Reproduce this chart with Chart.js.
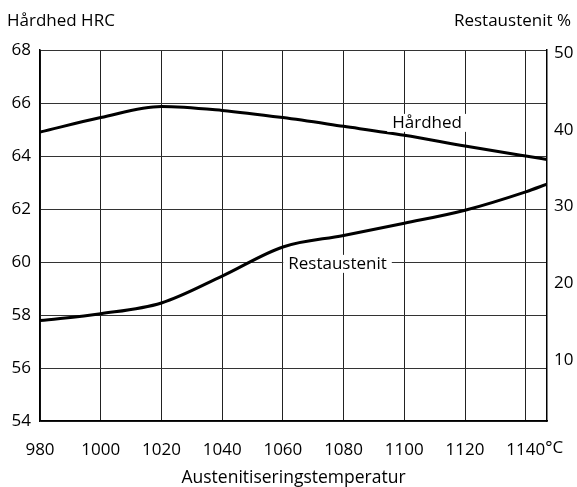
<!DOCTYPE html>
<html>
<head>
<meta charset="utf-8">
<script src="https://cdn.jsdelivr.net/npm/chart.js@4.4.1/dist/chart.umd.min.js"></script>
<style>
  html, body { margin: 0; padding: 0; background: #fff; }
  #wrap { width: 577px; height: 487px; }
</style>
</head>
<body>
<div id="wrap"><canvas id="graf" width="577" height="487"></canvas></div>
<script>
// data
const temperaturer = [980, 1000, 1020, 1040, 1060, 1080, 1100, 1120, 1140, 1147];
const haardhed = [64.9, 65.45, 65.87, 65.72, 65.45, 65.12, 64.78, 64.38, 64.0, 63.87];
const restaustenit = [15.1, 16.0, 17.4, 20.9, 24.7, 26.2, 27.8, 29.5, 31.9, 32.9];
const xTicks = [980, 1000, 1020, 1040, 1060, 1080, 1100, 1120, 1140];
const hrcTicks = [54, 56, 58, 60, 62, 64, 66, 68];
const restTicks = [10, 20, 30, 40, 50];

const FONT = "'Open Sans', 'DejaVu Sans', sans-serif";

function punkter(ys) {
    return temperaturer.map((t, i) => ({ x: t, y: ys[i] }));
}

// tekster oven over og inde i diagrammet
const tekstPlugin = {
    id: 'tekster',
    afterDraw(chart) {
        const ctx = chart.ctx;
        const x = chart.scales.x;
        const yL = chart.scales.y;
        ctx.save();
        ctx.fillStyle = '#000';
        ctx.font = '17px ' + FONT;
        ctx.textBaseline = 'middle';
        ctx.textAlign = 'left';
        ctx.fillText('Hårdhed HRC', 7, 21);
        ctx.textAlign = 'right';
        ctx.fillText('Restaustenit %', 571, 21);

        // °C efter sidste tick
        const halv = ctx.measureText('1140').width / 2;
        ctx.textAlign = 'left';
        ctx.fillText('°C', x.getPixelForValue(1140) + halv, 448);

        // kurvenavne med hvid baggrund
        const navne = [
            { txt: 'Hårdhed', px: x.getPixelForValue(1107.5), py: yL.getPixelForValue(65.25) },
            { txt: 'Restaustenit', px: x.getPixelForValue(1078), py: yL.getPixelForValue(59.93) }
        ];
        ctx.textAlign = 'center';
        navne.forEach(n => {
            const w = ctx.measureText(n.txt).width;
            ctx.fillStyle = '#fff';
            ctx.fillRect(n.px - w / 2 - 5, n.py - 9, w + 10, 18);
            ctx.fillStyle = '#000';
            ctx.fillText(n.txt, n.px, n.py);
        });
        ctx.restore();
    }
};

new Chart(document.getElementById('graf').getContext('2d'), {
    type: 'line',
    data: {
        datasets: [{
            label: 'Hårdhed',
            data: punkter(haardhed),
            yAxisID: 'y',
            borderColor: '#000',
            borderWidth: 3,
            pointRadius: 0,
            cubicInterpolationMode: 'monotone',
            fill: false
        }, {
            label: 'Restaustenit',
            data: punkter(restaustenit),
            yAxisID: 'y2',
            borderColor: '#000',
            borderWidth: 3,
            pointRadius: 0,
            cubicInterpolationMode: 'monotone',
            fill: false
        }]
    },
    options: {
        responsive: false,
        animation: false,
        layout: { padding: { top: 50, right: 0, left: 0, bottom: 0 } },
        plugins: {
            legend: { display: false },
            tooltip: { enabled: false }
        },
        scales: {
            x: {
                type: 'linear',
                min: 980,
                max: 1147,
                afterBuildTicks: s => { s.ticks = xTicks.map(v => ({ value: v })); },
                afterFit: s => { s.height = 66; },
                ticks: {
                    color: '#000',
                    font: { family: FONT, size: 17 },
                    padding: 19,
                    maxRotation: 0,
                    autoSkip: false,
                    callback: v => String(v)
                },
                grid: { color: '#222', lineWidth: 1, drawTicks: false },
                border: { color: '#000', width: 1.5 },
                title: {
                    display: true,
                    text: 'Austenitiseringstemperatur',
                    color: '#000',
                    font: { family: FONT, size: 17.5, lineHeight: 1 },
                    padding: { top: 12, bottom: 0 }
                }
            },
            y: {
                position: 'left',
                min: 54,
                max: 68,
                afterBuildTicks: s => { s.ticks = hrcTicks.map(v => ({ value: v })); },
                afterFit: s => { s.width = 40; },
                ticks: {
                    color: '#000',
                    font: { family: FONT, size: 17 },
                    padding: 9,
                    callback: v => String(v)
                },
                grid: { color: '#333', lineWidth: 1, drawTicks: false },
                border: { color: '#000', width: 1.5 }
            },
            y2: {
                position: 'right',
                min: 2,
                max: 50.4,
                afterBuildTicks: s => { s.ticks = restTicks.map(v => ({ value: v })); },
                afterFit: s => { s.width = 30; },
                ticks: {
                    color: '#000',
                    font: { family: FONT, size: 17 },
                    padding: 7,
                    callback: v => String(v)
                },
                grid: { display: false, drawTicks: false },
                border: { color: '#000', width: 1.5 }
            }
        }
    },
    plugins: [tekstPlugin]
});
</script>
</body>
</html>
